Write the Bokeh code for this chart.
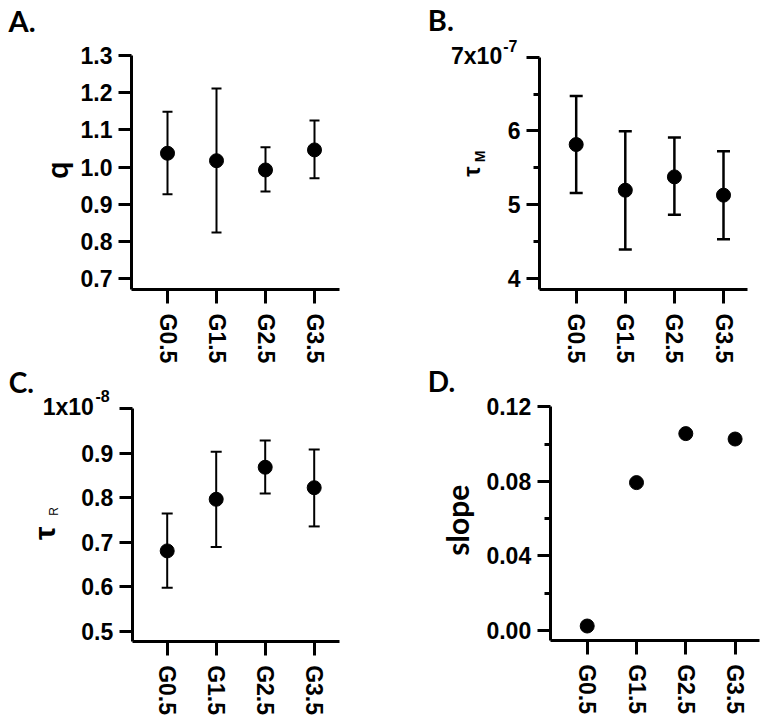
import math
from bokeh.plotting import figure
from bokeh.models import Range1d, FixedTicker, Whisker, ColumnDataSource, Label, TeeHead, PrintfTickFormatter
from bokeh.layouts import column, row
from bokeh.embed import file_html
from bokeh.resources import INLINE

groups = ["G0.5", "G1.5", "G2.5", "G3.5"]

q_mean = [1.037, 1.017, 0.992, 1.046]
q_upper = [1.149, 1.211, 1.053, 1.125]
q_lower = [0.927, 0.824, 0.934, 0.970]

tauM_mean = [5.815, 5.195, 5.376, 5.128]   # x 1e-7
tauM_upper = [6.475, 5.996, 5.910, 5.725]
tauM_lower = [5.158, 4.390, 4.861, 4.530]

tauR_mean = [0.680, 0.796, 0.868, 0.822]   # x 1e-8
tauR_upper = [0.764, 0.903, 0.928, 0.908]
tauR_lower = [0.597, 0.689, 0.809, 0.735]

slope = [0.0023, 0.0793, 0.1056, 0.1027]

q_ticks = [0.7, 0.8, 0.9, 1.0, 1.1, 1.2, 1.3]
tauM_ticks = [4, 5, 6, 7]
tauM_minor = [4.5, 5.5, 6.5]
tauR_ticks = [0.5, 0.6, 0.7, 0.8, 0.9, 1]
slope_ticks = [0.0, 0.04, 0.08, 0.12]
slope_minor = [0.02, 0.06, 0.10]

TICK_FONT = "Liberation Sans"
CAT_FONT = "Liberation Sans"
TITLE_FONT = "Lato"
W, H = 384, 363


def make_panel(ux, cx0, uy, ytop, ptop, pax_x, pax_y, px_right,
               yticks, yminor, yfmt, overrides):
    """ux: px per category, cx0: px of first category, uy: px per y unit,
    ytop: top tick value at pixel ptop, axis lines at pixel pax_x / pax_y."""
    xr = Range1d(-cx0 / ux, (W - cx0) / ux)
    yr = Range1d(ytop - (H - ptop) / uy, ytop + ptop / uy)
    ax_x = (pax_x - cx0) / ux
    ax_y = ytop - (pax_y - ptop) / uy
    x_right = (px_right - cx0) / ux
    p = figure(width=W, height=H, x_range=xr, y_range=yr,
               output_backend="svg", toolbar_location=None, min_border=0)
    p.outline_line_color = None
    p.grid.visible = False
    for ax in (p.xaxis[0], p.yaxis[0]):
        ax.axis_line_width = 3
        ax.axis_line_color = "black"
        ax.major_tick_line_width = 3
        ax.major_tick_line_color = "black"
        ax.major_tick_in = 0
        ax.minor_tick_in = 0
        ax.minor_tick_out = 6
        ax.minor_tick_line_width = 3
        ax.minor_tick_line_color = "black"
        ax.major_label_text_color = "black"
        ax.major_label_text_font_style = "bold"
    xa = p.xaxis[0]
    xa.fixed_location = ax_y
    xa.bounds = (ax_x, x_right)
    xa.ticker = FixedTicker(ticks=list(range(len(groups))))
    xa.major_label_overrides = {i: g for i, g in enumerate(groups)}
    xa.major_label_orientation = -math.pi / 2
    xa.major_tick_out = 14
    xa.major_label_standoff = 10
    xa.major_label_text_font = CAT_FONT
    xa.major_label_text_font_size = "23px"
    ya = p.yaxis[0]
    ya.fixed_location = ax_x
    ya.bounds = (ax_y, ytop)
    ya.ticker = FixedTicker(ticks=yticks, minor_ticks=yminor)
    ya.formatter = PrintfTickFormatter(format=yfmt)
    if overrides:
        ya.major_label_overrides = overrides
    ya.major_tick_out = 13
    ya.major_label_standoff = 6
    ya.major_label_text_font = TICK_FONT
    ya.major_label_text_font_size = "23px"
    return p, ax_x


def add_points(p, mean, upper=None, lower=None, cap=11, lw=2):
    xs = list(range(len(groups)))
    if upper is not None:
        src = ColumnDataSource(dict(x=xs, upper=upper, lower=lower))
        w = Whisker(base="x", upper="upper", lower="lower", source=src,
                    line_width=lw, line_color="black",
                    upper_head=TeeHead(size=cap, line_width=lw, line_color="black"),
                    lower_head=TeeHead(size=cap, line_width=lw, line_color="black"))
        p.add_layout(w)
    p.scatter(xs, mean, size=14, color="black")


def txt(p, x, y, text, xo, yo, size, font=TITLE_FONT, style="bold", angle=0.0,
        align="left", baseline="alphabetic"):
    p.add_layout(Label(x=x, y=y, text=text, x_offset=xo, y_offset=yo, angle=angle,
                       text_font=font, text_font_size=size, text_font_style=style,
                       text_align=align, text_baseline=baseline, text_color="black"))


# Panel A
pA, axA = make_panel(49.0, 167.0, 371.7, 1.3, 55.0, 131.0, 289.0, 339.0,
                     q_ticks, [], "%.1f", None)
add_points(pA, q_mean, q_upper, q_lower, cap=10)
txt(pA, axA, 1.3, "A.", -123, 35.5, "29px")
txt(pA, axA, 0.991, "q", -76, 0, "30px", angle=math.pi / 2, align="center")

# Panel B
pB, axB = make_panel(49.1, 191.7, 73.7, 7.0, 56.7, 155.0, 289.0, 363.0,
                     tauM_ticks, tauM_minor, "%d", {7: ""})
add_points(pB, tauM_mean, tauM_upper, tauM_lower, cap=13, lw=2.5)
txt(pB, axB, 7.0, "B.", -111.7, 37.5, "29px")
txt(pB, axB, 7.0, "7x10", -37.3, 1.7, "23px", font=TICK_FONT, align="right")
txt(pB, axB, 7.0, "-7", -36.3, 11.4, "16px", font=TICK_FONT, align="left")
txt(pB, axB, 5.449, "τ", -68, 0, "23px", font=TICK_FONT, style="bold",
    angle=math.pi / 2, align="center")
txt(pB, axB, 5.653, "M", -60, 0, "14px", font=TICK_FONT, style="bold",
    angle=math.pi / 2, align="center")

# Panel C
pC, axC = make_panel(49.0, 166.7, 445.0, 1.0, 45.0, 131.7, 277.7, 339.0,
                     tauR_ticks, [], "%.1f", {1: ""})
add_points(pC, tauR_mean, tauR_upper, tauR_lower, cap=11)
txt(pC, axC, 1.0, "C.", -123.4, 26.7, "28px")
txt(pC, axC, 1.0, "1x10", -38.4, 1.3, "23px", font=TICK_FONT, align="right")
txt(pC, axC, 1.0, "-8", -36.7, 12.7, "16px", font=TICK_FONT, align="left")
txt(pC, axC, 0.7194, "τ", -88, 0, "30px", font=TICK_FONT, style="bold",
    angle=math.pi / 2, align="center")
txt(pC, axC, 0.769, "R", -78, 0, "12px", font=TICK_FONT, style="normal",
    angle=math.pi / 2, align="center")

# Panel D
pD, axD = make_panel(49.3, 202.7, 1862.5, 0.12, 43.3, 165.7, 276.7, 375.0,
                     slope_ticks, slope_minor, "%.2f", None)
add_points(pD, slope)
txt(pD, axD, 0.12, "D.", -122.4, 25.6, "28px")
txt(pD, axD, 0.0591, "slope", -93, 0, "30px", angle=math.pi / 2, align="center")

layout = column(row(pA, pB), row(pC, pD))
open("out.html", "w").write(file_html(layout, INLINE))
